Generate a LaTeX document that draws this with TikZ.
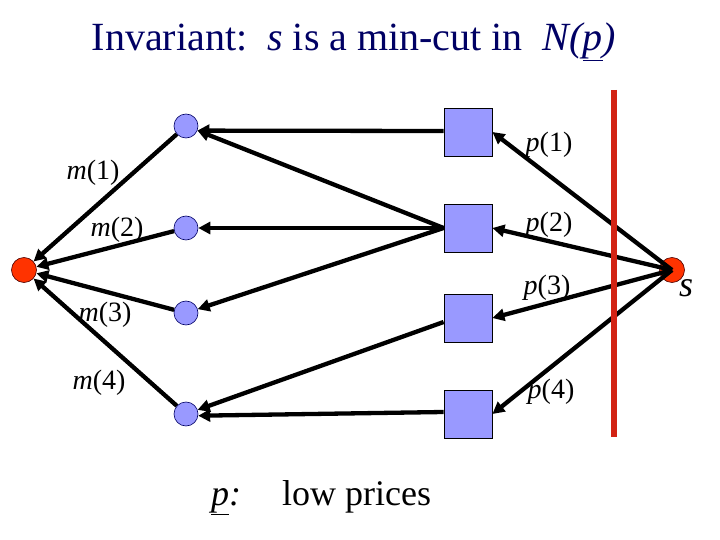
\documentclass[tikz,border=0pt]{standalone}
\usepackage{fontspec}
\setmainfont{Liberation Serif}
\usetikzlibrary{arrows.meta}
\definecolor{navy}{RGB}{0,0,100}
\definecolor{peri}{RGB}{153,153,255}
\definecolor{redn}{RGB}{255,51,0}
\definecolor{cutred}{RGB}{210,35,20}
\tikzset{
  mnode/.style={circle,fill=peri,draw=navy,line width=0.6pt,minimum size=24pt,inner sep=0pt},
  pnode/.style={rectangle,fill=peri,draw=black,line width=0.8pt,minimum size=48pt,inner sep=0pt},
  rnode/.style={circle,fill=redn,draw=black!70!red,line width=0.6pt,minimum size=25pt,inner sep=0pt},
  edge/.style={line width=4.3pt,-{Triangle[length=12pt,width=12pt]}},
  lbl/.style={font=\fontsize{28}{30}\selectfont,inner sep=0pt},
}
\begin{document}
\begin{tikzpicture}[x=1pt,y=-1pt]
\useasboundingbox (0,0) rectangle (720,540);
\node[font=\fontsize{40}{44}\selectfont,text=navy,inner sep=0pt] (title) at (354,42)
  {Invariant:\ \ \textit{s} is a min-cut in\ \ \textit{N(\underline{p})}};
% nodes
\node[rnode] (t) at (24,270) {};
\node[rnode] (s) at (672,270) {};
\node[mnode] (c1) at (186,126) {};
\node[mnode] (c2) at (186,228) {};
\node[mnode] (c3) at (186,313) {};
\node[mnode] (c4) at (186,414) {};
\node[pnode] (q1) at (468,132) {};
\node[pnode] (q2) at (468,228) {};
\node[pnode] (q3) at (468,318) {};
\node[pnode] (q4) at (468,414) {};
% edges
\draw[edge] (s.center) -- (q1.east);
\draw[edge] (s.center) -- (q2.east);
\draw[edge] (s.center) -- (q3.east);
\draw[edge] (s.center) -- (q4.east);
\draw[edge] ([yshift=1pt]q1.west) -- (c1.-22);
\draw[edge] (q2.west) -- (c1);
\draw[edge] (q2.west) -- (c2);
\draw[edge] (q2.west) -- (c3);
\draw[edge] ([yshift=-4pt]q3.west) -- (c4);
\draw[edge] ([yshift=2pt]q4.west) -- (c4.-8);
\draw[edge] (c1) -- (t);
\draw[edge] (c2) -- (t);
\draw[edge] (c3) -- (t);
\draw[edge] (c4) -- (t);
% cut line
\coordinate (cuttop) at (614,90);
\coordinate (cutbot) at (614,437);
\draw[cutred,line width=6pt] (cuttop) -- (cutbot);
% labels
\node[lbl] (lm1) at (93,173) {\textit{m}(1)};
\node[lbl] (lm2) at (117,230) {\textit{m}(2)};
\node[lbl] (lm3) at (105,315) {\textit{m}(3)};
\node[lbl] (lm4) at (99,383) {\textit{m}(4)};
\node[lbl] (lp1) at (549,145) {\textit{p}(1)};
\node[lbl] (lp2) at (549,225) {\textit{p}(2)};
\node[lbl] (lp3) at (547,288) {\textit{p}(3)};
\node[lbl] (lp4) at (551,392) {\textit{p}(4)};
\node[font=\fontsize{36}{40}\selectfont,inner sep=0pt] (ls) at (686,288) {\textit{s}};
\node[font=\fontsize{36}{40}\selectfont,inner sep=0pt,anchor=base west] (lpcolon) at (211,505) {\textit{\underline{p}:}};
\node[font=\fontsize{36}{40}\selectfont,inner sep=0pt,anchor=base west] (lowp) at (282,505) {low prices};
\end{tikzpicture}
\end{document}
